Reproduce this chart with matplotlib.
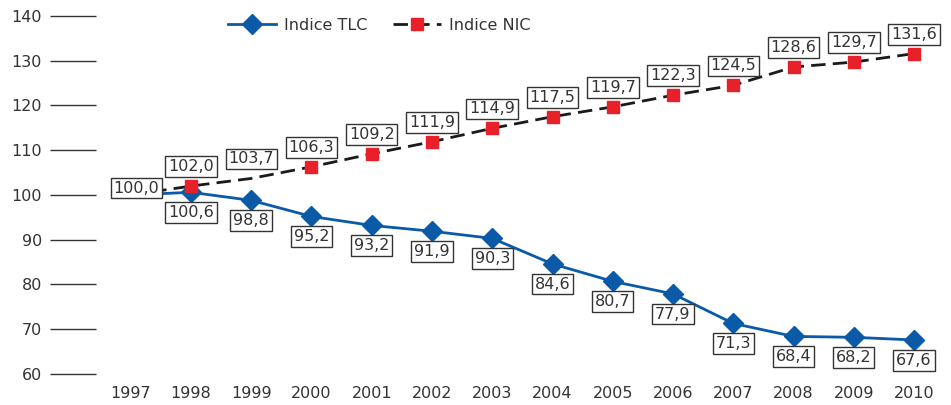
import numpy as np
import matplotlib.pyplot as plt

# dati
anni = [1997, 1998, 1999, 2000, 2001, 2002, 2003, 2004, 2005, 2006, 2007, 2008, 2009, 2010]
tlc = [100.0, 100.6, 98.8, 95.2, 93.2, 91.9, 90.3, 84.6, 80.7, 77.9, 71.3, 68.4, 68.2, 67.6]
nic = [100.0, 102.0, 103.7, 106.3, 109.2, 111.9, 114.9, 117.5, 119.7, 122.3, 124.5, 128.6, 129.7, 131.6]

blu = '#0a5aa8'
rosso = '#e8202a'
grigio = '#333333'

def fmt(v):
    return f"{v:.1f}".replace('.', ',')

fig = plt.figure(figsize=(9.51, 4.05), dpi=100)
W, H = 951, 405
x_left, x_right = 96, 945
ax = fig.add_axes([x_left / W, (H - 374) / H, (x_right - x_left) / W, 358 / H])

px_per_year = (914 - 191) / 12
x0 = 1997 - (130.75 - x_left) / px_per_year
x1 = 2010 + (x_right - 914) / px_per_year
ax.set_xlim(x0, x1)
ax.set_ylim(60, 140)

ax.plot(anni, tlc, color=blu, lw=2.0, marker='D', ms=10.5, mfc=blu, mec=blu,
        markevery=list(range(1, len(anni))), label='Indice TLC', zorder=3, clip_on=False)
# marker del 1999 assente nel grafico originale
nic_mark = [i for i in range(1, len(anni)) if anni[i] != 1999]
ax.plot(anni, nic, color='#1a1a1a', lw=2.0, ls=(0, (5.2, 2.6)), marker='s', ms=8.5,
        mfc=rosso, mec=rosso, markevery=nic_mark, label='Indice NIC', zorder=4, clip_on=False)

box = dict(boxstyle='square,pad=0.18', fc='white', ec=grigio, lw=1)
fs = 11.5
for i, a in enumerate(anni):
    if i == 0:
        ax.annotate(fmt(tlc[i]), (a, tlc[i]), xytext=(4, 5), textcoords='offset points',
                    ha='center', va='center', fontsize=fs, color=grigio, bbox=box, zorder=6)
        continue
    ax.annotate(fmt(tlc[i]), (a, tlc[i]), xytext=(0, -14.5), textcoords='offset points',
                ha='center', va='center', fontsize=fs, color=grigio, bbox=box, zorder=6)
    ax.annotate(fmt(nic[i]), (a, nic[i]), xytext=(0, 14), textcoords='offset points',
                ha='center', va='center', fontsize=fs, color=grigio, bbox=box, zorder=6)

for s in ax.spines.values():
    s.set_visible(False)
ax.set_xticks(anni)
ax.set_xticklabels([str(a) for a in anni])
ax.set_yticks(range(60, 141, 10))
ax.tick_params(axis='x', length=0, pad=9, labelsize=fs, colors=grigio)
ax.tick_params(axis='y', length=33, width=1, pad=6, labelsize=fs, colors=grigio, direction='out')

leg = ax.legend(loc='upper left', bbox_to_anchor=((214 - x_left) / (x_right - x_left), 1.035),
                ncol=2, frameon=False, fontsize=fs, handlelength=3.0, columnspacing=1.6,
                handletextpad=0.5, labelcolor=grigio)

fig.savefig('out.png', dpi=100)
